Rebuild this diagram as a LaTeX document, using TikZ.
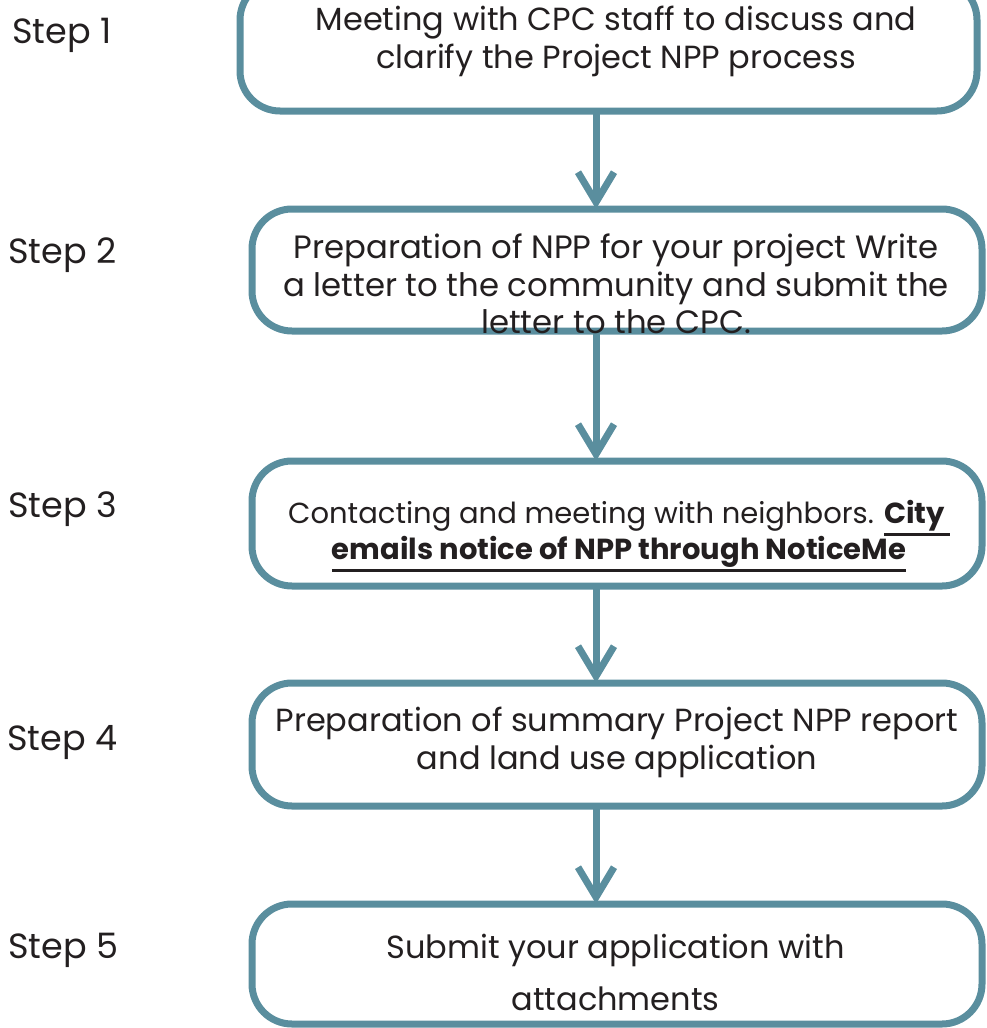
\documentclass[tikz,border=0pt]{standalone}
\usepackage{fontspec}
\setmainfont{Poppins}
\usetikzlibrary{arrows.meta}
\definecolor{teal}{HTML}{5A8E9E}
\definecolor{ink}{HTML}{231F20}
\newcommand\thickul[1]{\vtop{\hbox{#1}\kern2pt\hrule height 2.6pt}}
\tikzset{
  box/.style={draw=teal, line width=7pt, rounded corners=40pt, fill=white, inner sep=0pt, outer sep=0pt},
  txt/.style={text=ink, align=center, inner sep=0pt, font=\fontsize{32}{38}\selectfont},
  steplbl/.style={text=ink, anchor=west, inner sep=0pt, font=\fontsize{35}{40}\selectfont},
  arr/.style={draw=teal, line width=7pt, -{Straight Barb[length=30pt,width=36pt,line cap=butt]}}
}
\begin{document}
\begin{tikzpicture}[x=1pt,y=-1pt]
\useasboundingbox (0,0) rectangle (986,1028);
\coordinate (ax) at (596,0);
\node[box, minimum width=737pt, minimum height=131pt] (b1) at (608.5,45.5) {};
\node[box, minimum width=730pt, minimum height=122pt] (b2) at (617,270) {};
\node[box, minimum width=730pt, minimum height=125pt] (b3) at (617,523.5) {};
\node[box, minimum width=730pt, minimum height=123pt] (b4) at (617,744.5) {};
\node[box, minimum width=730pt, minimum height=120pt] (b5) at (617,964) {};

\draw[arr] (b1.south -| ax) -- (b2.north -| ax);
\draw[arr] (b2.south -| ax) -- (b3.north -| ax);
\draw[arr] (b3.south -| ax) -- (b4.north -| ax);
\draw[arr] (b4.south -| ax) -- (b5.north -| ax);

\node[txt] (t1) at (616,41) {Meeting with CPC staff to discuss and\\clarify the Project NPP process};
\node[txt, font=\fontsize{32.3}{37.5}\selectfont] (t2) at (616,284) {Preparation of NPP for your project Write\\a letter to the community and submit the\\letter to the CPC.};
\node[txt, font=\fontsize{29}{36}\selectfont] (t3) at (619,536) {Contacting and meeting with neighbors. \thickul{\textbf{City}\,}\\\thickul{\textbf{emails notice of NPP through NoticeMe}}};
\node[txt] (t4) at (617,742) {Preparation of summary Project NPP report\\and land use application};
\node[txt, font=\fontsize{32}{52}\selectfont] (t5) at (615.5,972) {Submit your application with\\attachments};

\node[steplbl] (s1) at (12,35) {Step 1};
\node[steplbl] (s2) at (8,255) {Step 2};
\node[steplbl] (s3) at (8,509) {Step 3};
\node[steplbl] (s4) at (7,743) {Step 4};
\node[steplbl] (s5) at (8,950) {Step 5};
\end{tikzpicture}
\end{document}
